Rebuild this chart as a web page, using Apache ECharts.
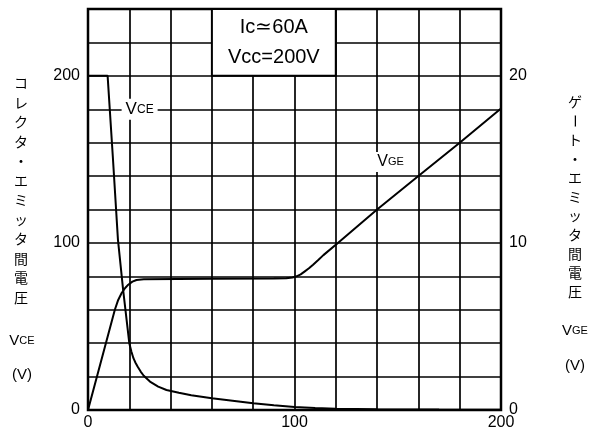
<!DOCTYPE html>
<html><head><meta charset="utf-8">
<script src="https://cdn.jsdelivr.net/npm/echarts@6/dist/echarts.min.js"></script>
<style>html,body{margin:0;padding:0;background:#fff}#c{width:590px;height:433px}</style>
</head><body><div id="c"></div>
<script>
// ---- data ----
const xLabels = [0, 100, 200];
const leftLabels = [0, 100, 200];
const rightLabels = [0, 10, 20];
const vceData = [[0,200],[9.5,200],[12,152],[14.5,102],[17,72],[20,40],[21,35],[22,31],[23,28.3],[24,26],[25.5,23],[27,20.5],[30,17],[34,14],[38,12],[44,10.3],[50,8.8],[60,7],[70,5.5],[80,4],[90,2.8],[100,1.8],[110,1.2],[120,0.8],[140,0.5],[170,0.3],[200,0.2]];
const vgeData = [[0,0],[13,6],[14.5,6.55],[16.3,7.0],[18,7.3],[19.5,7.5],[21.5,7.68],[23.5,7.78],[27,7.82],[60,7.85],[90,7.87],[96,7.88],[99,7.93],[101,8.0],[103,8.12],[105,8.3],[107,8.48],[109,8.7],[111.5,8.98],[114,9.27],[121,10],[140,12],[160,14],[180,16],[200,18.05]];
const condText = 'Ic≃60A\nVcc=200V';
const leftTitle = 'コレクタ・エミッタ間電圧';
const rightTitle = 'ゲート・エミッタ間電圧';

const chart = echarts.init(document.getElementById('c'));
const numFont = 'Liberation Sans';
const cjk = 'Noto Sans CJK JP';

function column(text, x, y0, pitch) {
  return text.split('').map((ch, i) => ({
    type: 'text', x: x, y: y0 + i * pitch,
    rotation: ch === 'ー' ? -Math.PI / 2 : 0,
    style: { text: ch, fill: '#000', font: '14px "' + cjk + '"', align: 'center', verticalAlign: 'middle' }
  }));
}
function unitTitle(main, sub, x, y) {
  return {
    type: 'text', x: x, y: y,
    style: {
      text: '{a|' + main + '}{b|' + sub + '}', align: 'center', verticalAlign: 'middle',
      rich: { a: { fontSize: 15, fontFamily: numFont, fill: '#000' }, b: { fontSize: 11, fontFamily: numFont, fill: '#000' } }
    }
  };
}

chart.setOption({
  animation: false,
  backgroundColor: '#fff',
  grid: { left: 88, right: 89, top: 9, bottom: 23, show: true, borderColor: '#000', borderWidth: 2.5, backgroundColor: '#fff' },
  xAxis: {
    type: 'value', min: 0, max: 200, interval: 20,
    axisLine: { show: false }, axisTick: { show: false },
    splitLine: { show: true, lineStyle: { color: '#000', width: 1.7 } },
    axisLabel: { margin: 5, fontSize: 16, fontFamily: numFont, color: '#000',
      formatter: v => xLabels.includes(v) ? String(v) : '' }
  },
  yAxis: [{
    type: 'value', min: 0, max: 240, interval: 20,
    axisLine: { show: false }, axisTick: { show: false },
    splitLine: { show: true, lineStyle: { color: '#000', width: 1.7 } },
    axisLabel: { margin: 8, fontSize: 16, fontFamily: numFont, color: '#000',
      formatter: v => leftLabels.includes(v) ? String(v) : '' }
  }, {
    type: 'value', min: 0, max: 24, interval: 2, position: 'right',
    axisLine: { show: false }, axisTick: { show: false }, splitLine: { show: false },
    axisLabel: { margin: 8, fontSize: 16, fontFamily: numFont, color: '#000',
      formatter: v => rightLabels.includes(v) ? String(v) : '' }
  }],
  series: [{
    name: 'VCE', type: 'line', yAxisIndex: 0, data: vceData, showSymbol: false, smooth: false,
    lineStyle: { color: '#000', width: 2 },
    markArea: {
      silent: true,
      itemStyle: { color: '#fff', borderColor: '#000', borderWidth: 2 },
      label: { show: true, position: 'inside', formatter: condText, fontSize: 20, lineHeight: 30, fontFamily: numFont, color: '#000' },
      data: [[{ coord: [60, 240] }, { coord: [120, 200] }]]
    },
    markPoint: {
      silent: true, symbol: 'rect', symbolSize: 0,
      label: { show: true, position: 'inside', backgroundColor: '#fff', padding: [2, 4],
        formatter: '{a|V}{b|CE}',
        rich: { a: { fontSize: 17, fontFamily: numFont, color: '#000' }, b: { fontSize: 12, fontFamily: numFont, color: '#000' } } },
      data: [{ coord: [25, 180] }]
    }
  }, {
    name: 'VGE', type: 'line', yAxisIndex: 1, data: vgeData, showSymbol: false, smooth: false,
    lineStyle: { color: '#000', width: 2 },
    markPoint: {
      silent: true, symbol: 'rect', symbolSize: 0,
      label: { show: true, position: 'inside', backgroundColor: '#fff', padding: [2, 4],
        formatter: '{a|V}{b|GE}',
        rich: { a: { fontSize: 16, fontFamily: numFont, color: '#000' }, b: { fontSize: 11, fontFamily: numFont, color: '#000' } } },
      data: [{ coord: [146.5, 14.85] }]
    }
  }],
  graphic: [
    ...column(leftTitle, 21, 83, 19.5),
    unitTitle('V', 'CE', 22, 341),
    { type: 'text', x: 22, y: 375, style: { text: '(V)', font: '15px "' + numFont + '"', fill: '#000', align: 'center', verticalAlign: 'middle' } },
    ...column(rightTitle, 575, 102, 19),
    unitTitle('V', 'GE', 575, 331),
    { type: 'text', x: 575, y: 366, style: { text: '(V)', font: '15px "' + numFont + '"', fill: '#000', align: 'center', verticalAlign: 'middle' } }
  ]
});
</script></body></html>
